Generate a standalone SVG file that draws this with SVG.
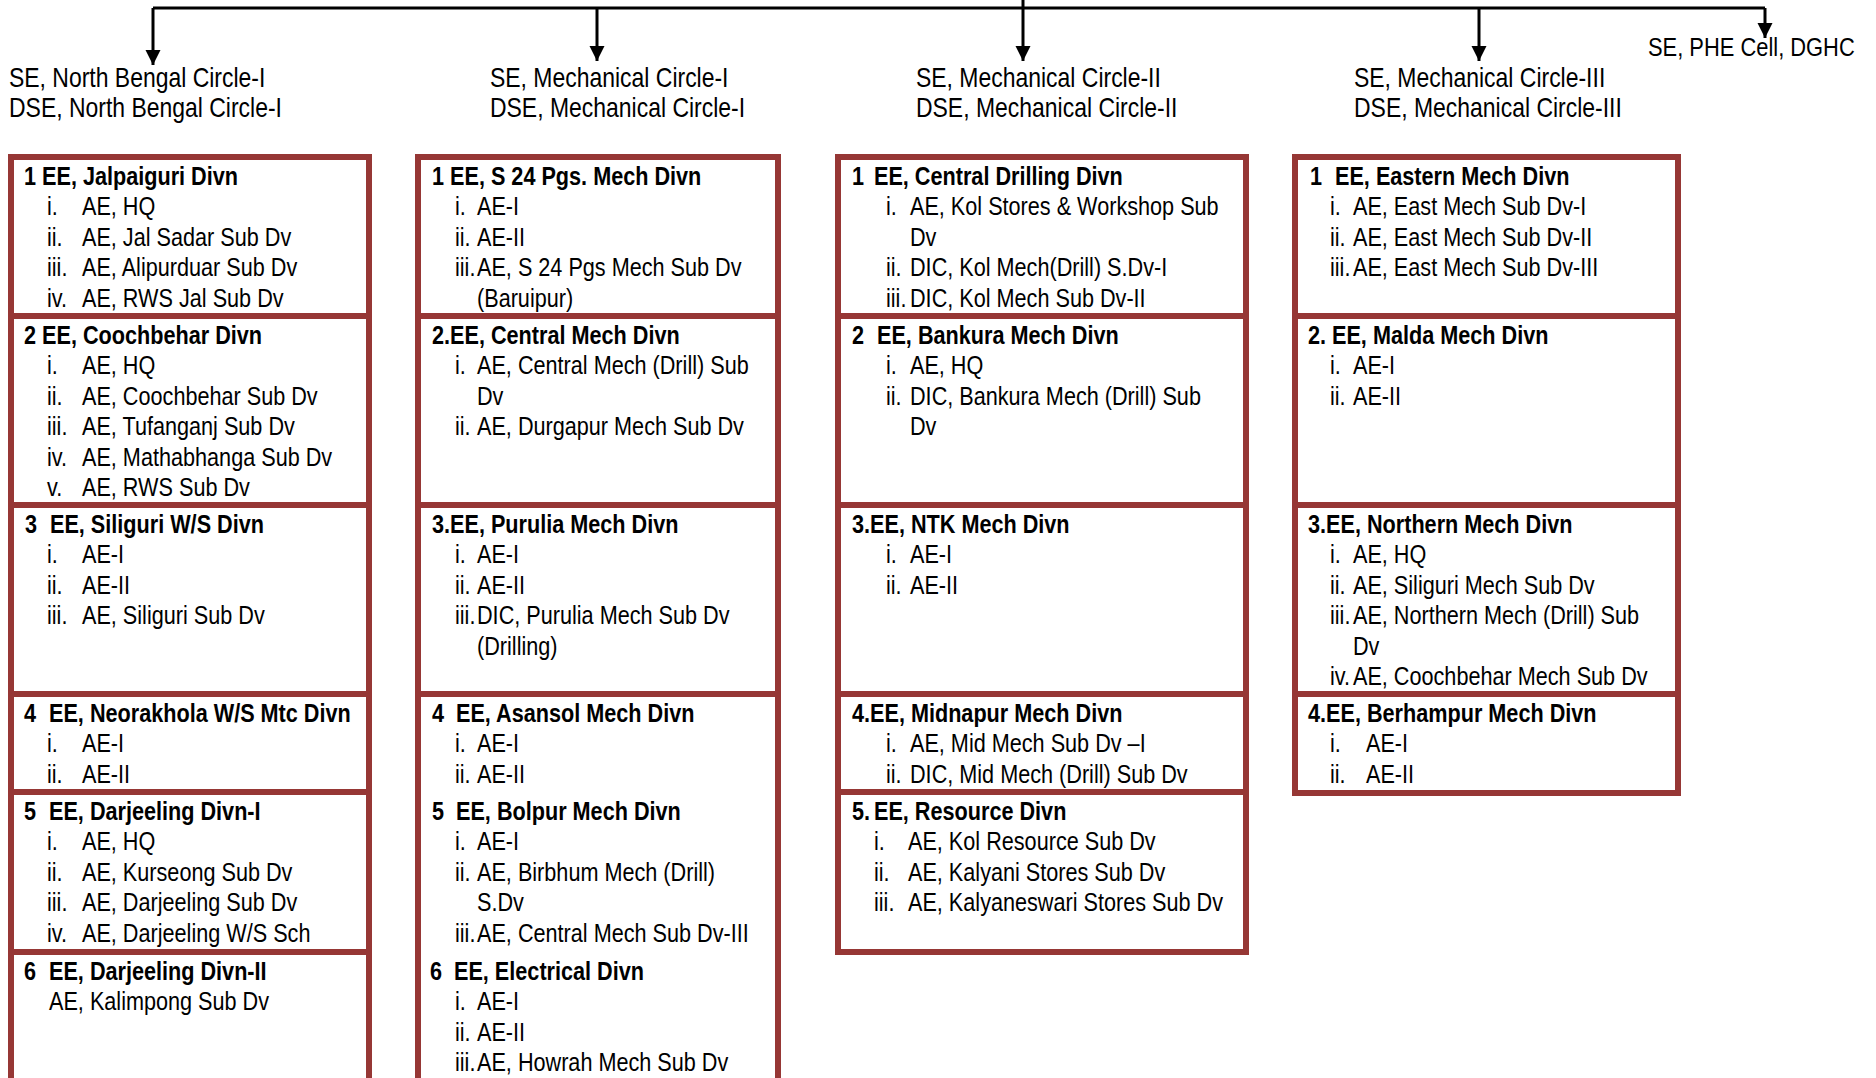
<svg xmlns="http://www.w3.org/2000/svg" width="1876" height="1078" viewBox="0 0 1876 1078">
<style>
.box{fill:#fff;stroke:#963735;stroke-width:6}
.div{stroke:#963735;stroke-width:6}
.con{stroke:#000;stroke-width:3;fill:none}
text{font-family:"Liberation Sans",Arial,sans-serif;font-size:26.4px;fill:#000}
.b{font-weight:bold}
.h{font-size:28px}
.p{font-size:26.7px}
</style>
<defs>
<marker id="ah" markerUnits="userSpaceOnUse" markerWidth="16" markerHeight="16" refX="15" refY="7.5" orient="auto"><path d="M0,0 L15,7.5 L0,15 Z" fill="#000"/></marker>
</defs>
<rect width="1876" height="1078" fill="#fff"/>
<g id="connectors">
<path class="con" d="M153,8 H1765"/>
<path class="con" d="M153,8 V65" marker-end="url(#ah)"/>
<path class="con" d="M597,8 V61" marker-end="url(#ah)"/>
<path class="con" d="M1023,0 V61" marker-end="url(#ah)"/>
<path class="con" d="M1479,8 V61" marker-end="url(#ah)"/>
<path class="con" d="M1765,8 V38" marker-end="url(#ah)"/>
</g>
<g transform="scale(0.82,1)">
<g id="label-nb1"><text class="h" x="10.98" y="87">SE, North Bengal Circle-I</text><text class="h" x="10.98" y="117">DSE, North Bengal Circle-I</text></g>
<g id="label-mc1"><text class="h" x="597.56" y="87">SE, Mechanical Circle-I</text><text class="h" x="597.56" y="117">DSE, Mechanical Circle-I</text></g>
<g id="label-mc2"><text class="h" x="1117.07" y="87">SE, Mechanical Circle-II</text><text class="h" x="1117.07" y="117">DSE, Mechanical Circle-II</text></g>
<g id="label-mc3"><text class="h" x="1651.22" y="87">SE, Mechanical Circle-III</text><text class="h" x="1651.22" y="117">DSE, Mechanical Circle-III</text></g>
<g id="label-phe"><text class="p" x="2009.76" y="56">SE, PHE Cell, DGHC</text></g>
</g>

<g id="col-nb1">
<rect class="box" x="11" y="157" width="358" height="1000"/>
<line class="div" x1="11" y1="316" x2="369" y2="316"/>
<line class="div" x1="11" y1="505" x2="369" y2="505"/>
<line class="div" x1="11" y1="694" x2="369" y2="694"/>
<line class="div" x1="11" y1="792" x2="369" y2="792"/>
<line class="div" x1="11" y1="952" x2="369" y2="952"/>
<g transform="scale(0.82,1)">
<g id="nb1-d1"><text class="b" x="29.27" y="185">1 EE, Jalpaiguri Divn</text>
<text x="57.32" y="215.5">i.</text><text x="100" y="215.5">AE, HQ</text>
<text x="57.32" y="246">ii.</text><text x="100" y="246">AE, Jal Sadar Sub Dv</text>
<text x="57.32" y="276.5">iii.</text><text x="100" y="276.5">AE, Alipurduar Sub Dv</text>
<text x="57.32" y="307">iv.</text><text x="100" y="307">AE, RWS Jal Sub Dv</text></g>
<g id="nb1-d2"><text class="b" x="29.27" y="344">2 EE, Coochbehar Divn</text>
<text x="57.32" y="374.5">i.</text><text x="100" y="374.5">AE, HQ</text>
<text x="57.32" y="405">ii.</text><text x="100" y="405">AE, Coochbehar Sub Dv</text>
<text x="57.32" y="435.5">iii.</text><text x="100" y="435.5">AE, Tufanganj Sub Dv</text>
<text x="57.32" y="466">iv.</text><text x="100" y="466">AE, Mathabhanga Sub Dv</text>
<text x="57.32" y="496.5">v.</text><text x="100" y="496.5">AE, RWS Sub Dv</text></g>
<g id="nb1-d3"><text class="b" x="30.49" y="533">3</text><text class="b" x="60.98" y="533">EE, Siliguri W/S Divn</text>
<text x="57.32" y="563.5">i.</text><text x="100" y="563.5">AE-I</text>
<text x="57.32" y="594">ii.</text><text x="100" y="594">AE-II</text>
<text x="57.32" y="624.5">iii.</text><text x="100" y="624.5">AE, Siliguri Sub Dv</text></g>
<g id="nb1-d4"><text class="b" x="29.27" y="722">4</text><text class="b" x="59.76" y="722">EE, Neorakhola W/S Mtc Divn</text>
<text x="57.32" y="752.5">i.</text><text x="100" y="752.5">AE-I</text>
<text x="57.32" y="783">ii.</text><text x="100" y="783">AE-II</text></g>
<g id="nb1-d5"><text class="b" x="29.27" y="820">5</text><text class="b" x="59.76" y="820">EE, Darjeeling Divn-I</text>
<text x="57.32" y="850.5">i.</text><text x="100" y="850.5">AE, HQ</text>
<text x="57.32" y="881">ii.</text><text x="100" y="881">AE, Kurseong Sub Dv</text>
<text x="57.32" y="911.5">iii.</text><text x="100" y="911.5">AE, Darjeeling Sub Dv</text>
<text x="57.32" y="942">iv.</text><text x="100" y="942">AE, Darjeeling W/S Sch</text></g>
<g id="nb1-d6"><text class="b" x="29.27" y="980">6</text><text class="b" x="59.76" y="980">EE, Darjeeling Divn-II</text>
<text x="59.76" y="1010.5">AE, Kalimpong Sub Dv</text></g>
</g>
</g>

<g id="col-mc1">
<rect class="box" x="418" y="157" width="360" height="1000"/>
<line class="div" x1="418" y1="316" x2="778" y2="316"/>
<line class="div" x1="418" y1="505" x2="778" y2="505"/>
<line class="div" x1="418" y1="694" x2="778" y2="694"/>
<g transform="scale(0.82,1)">
<g id="mc1-d1"><text class="b" x="526.83" y="185">1 EE, S 24 Pgs. Mech Divn</text>
<text x="554.88" y="215.5">i.</text><text x="581.71" y="215.5">AE-I</text>
<text x="554.88" y="246">ii.</text><text x="581.71" y="246">AE-II</text>
<text x="554.88" y="276.5">iii.</text><text x="581.71" y="276.5">AE, S 24 Pgs Mech Sub Dv</text>
<text x="581.71" y="307">(Baruipur)</text></g>
<g id="mc1-d2"><text class="b" x="526.83" y="344">2.EE, Central Mech Divn</text>
<text x="554.88" y="374.5">i.</text><text x="581.71" y="374.5">AE, Central Mech (Drill) Sub</text>
<text x="581.71" y="405">Dv</text>
<text x="554.88" y="435.5">ii.</text><text x="581.71" y="435.5">AE, Durgapur Mech Sub Dv</text></g>
<g id="mc1-d3"><text class="b" x="526.83" y="533">3.EE, Purulia Mech Divn</text>
<text x="554.88" y="563.5">i.</text><text x="581.71" y="563.5">AE-I</text>
<text x="554.88" y="594">ii.</text><text x="581.71" y="594">AE-II</text>
<text x="554.88" y="624.5">iii.</text><text x="581.71" y="624.5">DIC, Purulia Mech Sub Dv</text>
<text x="581.71" y="655">(Drilling)</text></g>
<g id="mc1-d4"><text class="b" x="526.83" y="722">4</text><text class="b" x="556.10" y="722">EE, Asansol Mech Divn</text>
<text x="554.88" y="752.5">i.</text><text x="581.71" y="752.5">AE-I</text>
<text x="554.88" y="783">ii.</text><text x="581.71" y="783">AE-II</text></g>
<g id="mc1-d5"><text class="b" x="526.83" y="820">5</text><text class="b" x="556.10" y="820">EE, Bolpur Mech Divn</text>
<text x="554.88" y="850.5">i.</text><text x="581.71" y="850.5">AE-I</text>
<text x="554.88" y="881">ii.</text><text x="581.71" y="881">AE, Birbhum Mech (Drill)</text>
<text x="581.71" y="911.5">S.Dv</text>
<text x="554.88" y="942">iii.</text><text x="581.71" y="942">AE, Central Mech Sub Dv-III</text></g>
<g id="mc1-d6"><text class="b" x="524.39" y="980">6</text><text class="b" x="553.66" y="980">EE, Electrical Divn</text>
<text x="554.88" y="1010.5">i.</text><text x="581.71" y="1010.5">AE-I</text>
<text x="554.88" y="1041">ii.</text><text x="581.71" y="1041">AE-II</text>
<text x="554.88" y="1071.5">iii.</text><text x="581.71" y="1071.5">AE, Howrah Mech Sub Dv</text></g>
</g>
</g>

<g id="col-mc2">
<rect class="box" x="838" y="157" width="408" height="795"/>
<line class="div" x1="838" y1="316" x2="1246" y2="316"/>
<line class="div" x1="838" y1="505" x2="1246" y2="505"/>
<line class="div" x1="838" y1="694" x2="1246" y2="694"/>
<line class="div" x1="838" y1="792" x2="1246" y2="792"/>
<g transform="scale(0.82,1)">
<g id="mc2-d1"><text class="b" x="1039.02" y="185">1</text><text class="b" x="1065.85" y="185">EE, Central Drilling Divn</text>
<text x="1080.49" y="215.5">i.</text><text x="1109.76" y="215.5">AE, Kol Stores &amp; Workshop Sub</text>
<text x="1109.76" y="246">Dv</text>
<text x="1080.49" y="276.5">ii.</text><text x="1109.76" y="276.5">DIC, Kol Mech(Drill) S.Dv-I</text>
<text x="1080.49" y="307">iii.</text><text x="1109.76" y="307">DIC, Kol Mech Sub Dv-II</text></g>
<g id="mc2-d2"><text class="b" x="1039.02" y="344">2</text><text class="b" x="1069.51" y="344">EE, Bankura Mech Divn</text>
<text x="1080.49" y="374.5">i.</text><text x="1109.76" y="374.5">AE, HQ</text>
<text x="1080.49" y="405">ii.</text><text x="1109.76" y="405">DIC, Bankura Mech (Drill) Sub</text>
<text x="1109.76" y="435.5">Dv</text></g>
<g id="mc2-d3"><text class="b" x="1039.02" y="533">3.EE, NTK Mech Divn</text>
<text x="1080.49" y="563.5">i.</text><text x="1109.76" y="563.5">AE-I</text>
<text x="1080.49" y="594">ii.</text><text x="1109.76" y="594">AE-II</text></g>
<g id="mc2-d4"><text class="b" x="1039.02" y="722">4.EE, Midnapur Mech Divn</text>
<text x="1080.49" y="752.5">i.</text><text x="1109.76" y="752.5">AE, Mid Mech Sub Dv –I</text>
<text x="1080.49" y="783">ii.</text><text x="1109.76" y="783">DIC, Mid Mech (Drill) Sub Dv</text></g>
<g id="mc2-d5"><text class="b" x="1039.02" y="820">5.</text><text class="b" x="1065.85" y="820">EE, Resource Divn</text>
<text x="1065.85" y="850.5">i.</text><text x="1107.32" y="850.5">AE, Kol Resource Sub Dv</text>
<text x="1065.85" y="881">ii.</text><text x="1107.32" y="881">AE, Kalyani Stores Sub Dv</text>
<text x="1065.85" y="911.5">iii.</text><text x="1107.32" y="911.5">AE, Kalyaneswari Stores Sub Dv</text></g>
</g>
</g>

<g id="col-mc3">
<rect class="box" x="1295" y="157" width="383" height="636"/>
<line class="div" x1="1295" y1="316" x2="1678" y2="316"/>
<line class="div" x1="1295" y1="505" x2="1678" y2="505"/>
<line class="div" x1="1295" y1="694" x2="1678" y2="694"/>
<g transform="scale(0.82,1)">
<g id="mc3-d1"><text class="b" x="1597.56" y="185">1</text><text class="b" x="1628.05" y="185">EE, Eastern Mech Divn</text>
<text x="1621.95" y="215.5">i.</text><text x="1650" y="215.5">AE, East Mech Sub Dv-I</text>
<text x="1621.95" y="246">ii.</text><text x="1650" y="246">AE, East Mech Sub Dv-II</text>
<text x="1621.95" y="276.5">iii.</text><text x="1650" y="276.5">AE, East Mech Sub Dv-III</text></g>
<g id="mc3-d2"><text class="b" x="1595.12" y="344">2.</text><text class="b" x="1624.39" y="344">EE, Malda Mech Divn</text>
<text x="1621.95" y="374.5">i.</text><text x="1650" y="374.5">AE-I</text>
<text x="1621.95" y="405">ii.</text><text x="1650" y="405">AE-II</text></g>
<g id="mc3-d3"><text class="b" x="1595.12" y="533">3.EE, Northern Mech Divn</text>
<text x="1621.95" y="563.5">i.</text><text x="1650" y="563.5">AE, HQ</text>
<text x="1621.95" y="594">ii.</text><text x="1650" y="594">AE, Siliguri Mech Sub Dv</text>
<text x="1621.95" y="624.5">iii.</text><text x="1650" y="624.5">AE, Northern Mech (Drill) Sub</text>
<text x="1650" y="655">Dv</text>
<text x="1621.95" y="685.5">iv.</text><text x="1650" y="685.5">AE, Coochbehar Mech Sub Dv</text></g>
<g id="mc3-d4"><text class="b" x="1595.12" y="722">4.EE, Berhampur Mech Divn</text>
<text x="1621.95" y="752.5">i.</text><text x="1665.85" y="752.5">AE-I</text>
<text x="1621.95" y="783">ii.</text><text x="1665.85" y="783">AE-II</text></g>
</g>
</g>
</svg>
